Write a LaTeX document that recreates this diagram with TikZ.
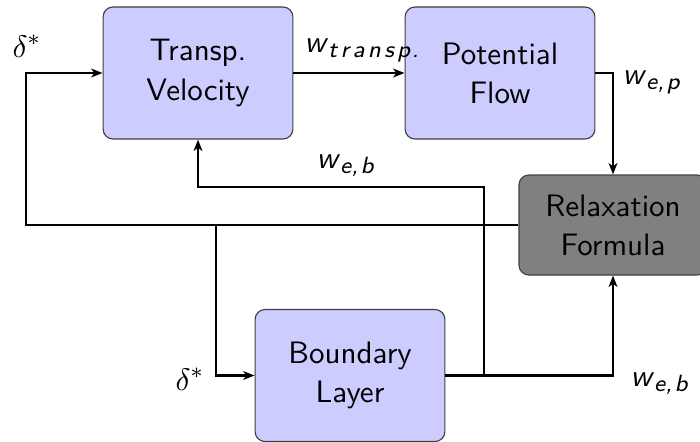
\documentclass[tikz,border=0pt]{standalone}
\usetikzlibrary{arrows.meta}
\renewcommand\familydefault{\sfdefault}
% sans italic symbol and its lowered, smaller index
\newcommand\wsym[1]{\textsf{\textit{#1}}}
\newcommand\wsub[1]{\raisebox{-2.1pt}{\fontsize{8.3}{9}\selectfont\wsym{#1}}}
\begin{document}
\begin{tikzpicture}[x=0.353pt,y=-0.353pt,
  blk/.style={draw=black!75, line width=0.4pt, rounded corners=3.5pt, fill=blue!20,
    minimum width=67pt, minimum height=46.6pt, align=center, inner sep=1pt,
    font=\fontsize{10.95}{13.8}\selectfont},
  darkblk/.style={blk, fill=black!50, minimum width=66.4pt, minimum height=35.3pt},
  arr/.style={line width=0.75pt, -{Stealth[length=4pt,width=3.1pt,inset=1.1pt]}},
  lbl/.style={inner sep=0pt, anchor=base west, font=\fontsize{10.95}{13.8}\selectfont}]
  \useasboundingbox (0,0) rectangle (700,441);

  % blocks
  \node[blk] (tv) at (198,73) {Transp.\\Velocity};
  \node[blk] (pf) at (500,73) {Potential\\Flow};
  \node[darkblk] (rf) at (613,225) {Relaxation\\Formula};
  \node[blk] (bl) at (350,375.5) {Boundary\\Layer};

  % helper points of the feedback wires
  \coordinate (lft) at (26,73);
  \coordinate (br) at (216,225);
  \coordinate (tap) at (484,376);
  \coordinate (turn) at (484,187);

  % connectors
  \draw[arr] (tv.east) -- (pf.west);
  \draw[arr] (pf.east) -| (rf.north);
  \draw[arr] (rf.west) -| (lft) -- (tv.west);
  \draw[arr] (br) |- (bl.west);
  \draw[arr] (bl.east) -| (rf.south);
  \draw[arr] (tap) -- (turn) -| (tv.south);

  % signal labels
  \node[lbl] (dtop) at (12,57) {$\delta^*$};
  \node[lbl] (wtr) at (304,52) {\wsym{w}\wsub{t\kern1.2pt r\kern1.2pt a\kern1.2pt n\kern1.2pt s\kern1.2pt p\kern0.6pt.}};
  \node[lbl] (wep) at (622,84) {\wsym{w}\wsub{e,\kern0.8pt p}};
  \node[lbl] (web1) at (316,168) {\wsym{w}\wsub{e,\kern0.8pt b}};
  \node[lbl] (web2) at (630,386) {\wsym{w}\wsub{e,\kern0.8pt b}};
  \node[lbl] (dbot) at (175,390) {$\delta^*$};
\end{tikzpicture}
\end{document}
